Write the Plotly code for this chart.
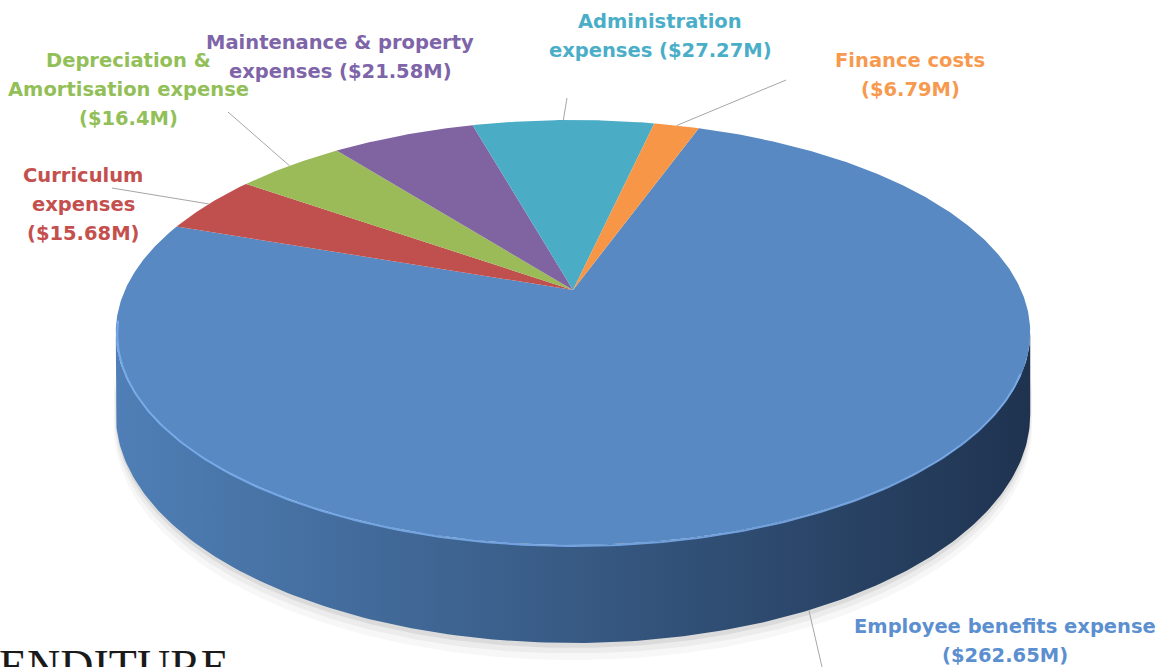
import numpy as np
import plotly.graph_objects as go

# ---------------- data ----------------
categories = [
    "Employee benefits expense",
    "Curriculum expenses",
    "Depreciation & Amortisation expense",
    "Maintenance & property expenses",
    "Administration expenses",
    "Finance costs",
]
values = [262.65, 15.68, 16.4, 21.58, 27.27, 6.79]
# words per label line (the value "($xM)" counts as the last word)
words_per_line = [[3, 1], [1, 1, 1], [2, 2, 1], [3, 2], [1, 2], [2, 1]]

# ---------------- styling / layout ----------------
top_colors = ["#5889c3", "#c0504d", "#9bbb59", "#8064a2", "#4bacc6", "#f79646"]
text_colors = ["#5b8fd0", "#c4504e", "#92bf58", "#7e64a8", "#4aaec8", "#f79a4f"]
# label anchor: (center x, first-line y) in pixel space
label_pos = [(1005, 626), (83, 175), (128, 60), (340, 42), (660, 21), (910, 60)]
# outer end of the leader line (None = no leader)
leader_end = [(822, 667), (112, 188), (228, 112), None, (567, 98), (786, 80)]
line_gap = 29

W, H = 1164, 667
x0, y0 = 573, 290          # pie centre (apex) on screen
s, p, c = 448, 204, 0.2    # perspective projection parameters
depth = 78.4               # side thickness
start_angle = 19.5         # first slice start, degrees clockwise from 12 o'clock


def proj(theta_deg, r=1.0, z=0.0):
    th = np.radians(theta_deg)
    u = r * np.sin(th)
    v = r * np.cos(th)
    d = 1 + c * v
    X = x0 + s * u / d
    Y = y0 - p * v / d + depth * z / d
    return X, Y


fig = go.Figure()

# soft shadow under the pie
sil = np.degrees(np.arccos(-c))
for rr, zz, op in [(1.004, 1.16, 0.03), (1.002, 1.10, 0.045), (1.0, 1.05, 0.07)]:
    th = np.linspace(sil, 360 - sil, 200)
    X, Y = proj(th, rr, zz)
    Xt, Yt = proj(th[::-1], rr, 0.5)
    fig.add_trace(go.Scatter(x=np.concatenate([X, Xt]), y=np.concatenate([Y, Yt]),
                             mode="lines", fill="toself",
                             fillcolor=f"rgba(0,0,0,{op})", line=dict(width=0),
                             hoverinfo="skip", showlegend=False))

# side wall (front visible part) -- belongs to the first (large) slice
th_front = np.linspace(sil, 360 - sil, 200)
Xt, Yt = proj(th_front, 1.0, 0.0)
Xb, Yb = proj(th_front[::-1], 1.0, 1.0)
fig.add_trace(go.Scatter(
    x=np.concatenate([Xt, Xb]), y=np.concatenate([Yt, Yb]),
    mode="lines", fill="toself", line=dict(width=0),
    fillgradient=dict(type="horizontal",
                      colorscale=[[0, "#4f7fb6"], [0.45, "#3a5e89"], [1, "#1f3350"]]),
    hoverinfo="skip", showlegend=False))

# top face slices
total = sum(values)
angles = [v / total * 360 for v in values]
a = start_angle
mids = []
for i, (cat, ang) in enumerate(zip(categories, angles)):
    th = np.linspace(a, a + ang, max(3, int(ang * 2)))
    X, Y = proj(th)
    fig.add_trace(go.Scatter(
        x=np.concatenate([[x0], X, [x0]]), y=np.concatenate([[y0], Y, [y0]]),
        mode="lines", fill="toself", fillcolor=top_colors[i], line=dict(width=0),
        name=cat, hoverinfo="name", showlegend=False))
    mids.append(a + ang / 2)
    a += ang

# rim highlight along the front edge of the top face
th_rim = np.linspace(112, 262, 200)
Xr, Yr = proj(th_rim, 0.997, 0.02)
fig.add_trace(go.Scatter(x=Xr, y=Yr, mode="lines",
                         line=dict(color="rgba(125,175,238,0.85)", width=2),
                         hoverinfo="skip", showlegend=False))

# leader lines + labels
for i, (cat, val) in enumerate(zip(categories, values)):
    if leader_end[i] is not None:
        zz = 1.0 if i == 0 else 0.0
        xs, ys = proj(mids[i], 1.0, zz)
        ex, ey = leader_end[i]
        fig.add_trace(go.Scatter(x=[xs, ex], y=[ys, ey], mode="lines",
                                 line=dict(color="#a6a6a6", width=1),
                                 hoverinfo="skip", showlegend=False))
    words = cat.split() + [f"(${val:g}M)"]
    lines, k = [], 0
    for n in words_per_line[i]:
        lines.append(" ".join(words[k:k + n]))
        k += n
    cx, cy = label_pos[i]
    for j, ln in enumerate(lines):
        fig.add_annotation(x=cx, y=cy + j * line_gap, text=ln, showarrow=False,
                           xanchor="center", yanchor="middle",
                           font=dict(family="DejaVu Sans", size=19.5, color=text_colors[i],
                                     weight=700))

# cut-off heading at the bottom-left (cropped in the source image)
fig.add_annotation(x=-0.003, xref="paper", y=638.5, text="ENDITURE", showarrow=False,
                   xanchor="left", yanchor="top",
                   font=dict(family="Liberation Serif", size=46, color="#1a1a1a"))

fig.update_layout(
    width=W, height=H, margin=dict(l=0, r=0, t=0, b=0),
    paper_bgcolor="white", plot_bgcolor="white",
    xaxis=dict(range=[0, W], visible=False, fixedrange=True),
    yaxis=dict(range=[H, 0], visible=False, fixedrange=True),
)

fig.write_html("out.html", config={"displayModeBar": False},
               post_script="document.body.style.margin='0';")
